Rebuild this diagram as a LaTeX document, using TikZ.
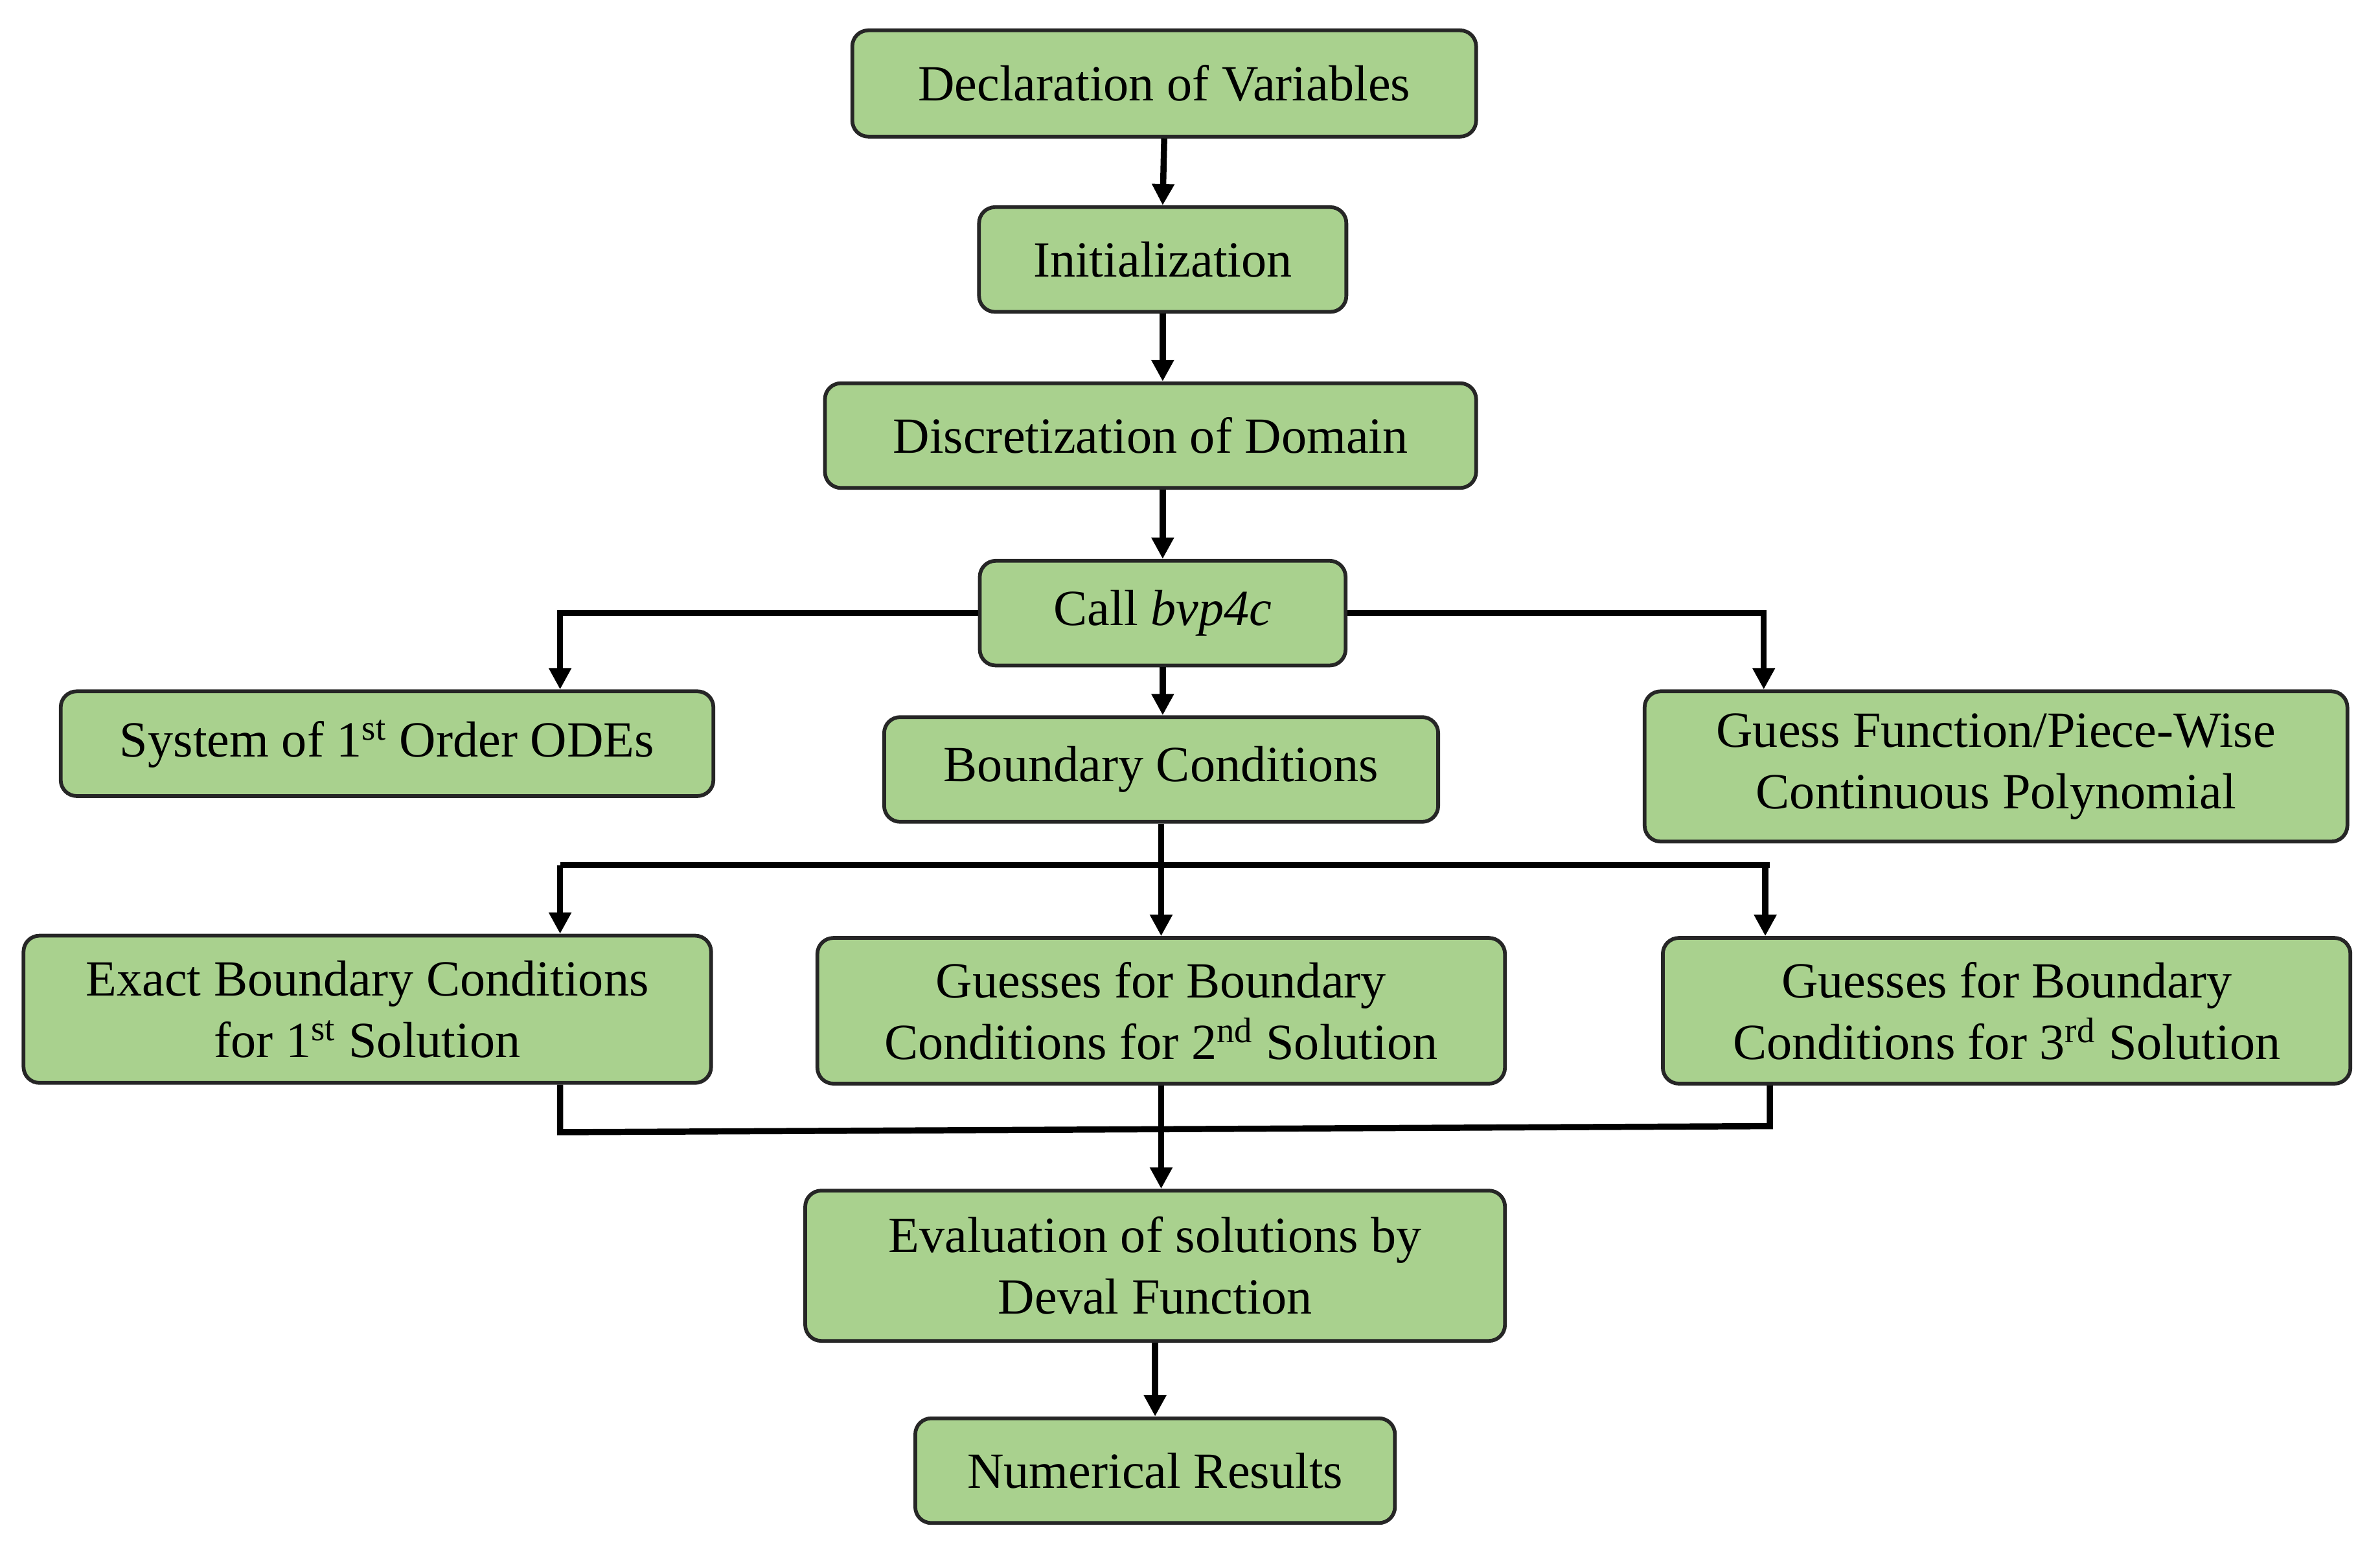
\documentclass[tikz,border=0pt]{standalone}
\usepackage{fontspec}
\setmainfont{Liberation Serif}
\usetikzlibrary{arrows.meta}
\begin{document}
\begin{tikzpicture}[x=0.02cm,y=-0.02cm,
  box/.style={draw=black!85,line width=1.4pt,fill=green!45!lime!30!olive!40!white,rounded corners=6pt,
    inner sep=0pt,align=center,font=\fontsize{19}{23}\selectfont},
  conn/.style={line width=2.3pt},
  arr/.style={conn,-{Triangle[length=8pt,width=8pt]}}]
\colorlet{bg}{white}
\definecolor{gf}{HTML}{A9D18E}
\tikzset{box/.append style={fill=gf}}
\useasboundingbox (0,0) rectangle (1568,1021);
\node[box,minimum width=411*0.02cm,minimum height=70*0.02cm] (decl) at (767,55) {Declaration of Variables};
\node[box,minimum width=242*0.02cm,minimum height=69*0.02cm] (init) at (766,171) {Initialization};
\node[box,minimum width=429*0.02cm,minimum height=69*0.02cm] (disc) at (758,287) {Discretization of Domain};
\node[box,minimum width=241*0.02cm,minimum height=69*0.02cm] (call) at (766,404) {Call \textit{bvp4c}};
\node[box,minimum width=430*0.02cm,minimum height=69*0.02cm] (sys) at (255,490) {System of 1\textsuperscript{st} Order ODEs};
\node[box,minimum width=365*0.02cm,minimum height=69*0.02cm] (bc) at (765,507) {Boundary Conditions};
\node[box,minimum width=463*0.02cm,minimum height=99*0.02cm] (guess) at (1315,505) {Guess Function/Piece-Wise\\Continuous Polynomial};
\node[box,minimum width=453*0.02cm,minimum height=97*0.02cm] (ex) at (242,665) {Exact Boundary Conditions\\for 1\textsuperscript{st} Solution};
\node[box,minimum width=453*0.02cm,minimum height=96*0.02cm] (g2) at (765,666) {Guesses for Boundary\\Conditions for 2\textsuperscript{nd} Solution};
\node[box,minimum width=453*0.02cm,minimum height=96*0.02cm] (g3) at (1322,666) {Guesses for Boundary\\Conditions for 3\textsuperscript{rd} Solution};
\node[box,minimum width=461*0.02cm,minimum height=99*0.02cm] (ev) at (761,834) {Evaluation of solutions by\\Deval Function};
\node[box,minimum width=316*0.02cm,minimum height=69*0.02cm] (num) at (761,969) {Numerical Results};
\coordinate (s1) at (765,570);
\coordinate (m1) at (765,744);
\draw[arr] (decl.south) -- (init.north);
\draw[arr] (init.south) -- (disc.north -| init.south);
\draw[arr] (disc.south -| call.north) -- (call.north);
\draw[arr] (call.west) -| (sys.north -| 369,0);
\draw[arr] (call.east) -| (guess.north -| 1162,0);
\draw[arr] (call.south) -- (bc.north -| call.south);
\draw[conn] (bc.south) -- (s1);
\draw[conn] (369,570) -- (1166,570);
\draw[arr] (369,570) -- (ex.north -| 369,0);
\draw[arr] (s1) -- (g2.north);
\draw[arr] (1163,570) -- (g3.north -| 1163,0);
\draw[conn] (ex.south -| 369,0) -- (369,746) -- (1166,742) -- (g3.south -| 1166,0);
\draw[arr] (g2.south) -- (ev.north -| g2.south);
\draw[arr] (ev.south) -- (num.north);
\end{tikzpicture}
\end{document}
